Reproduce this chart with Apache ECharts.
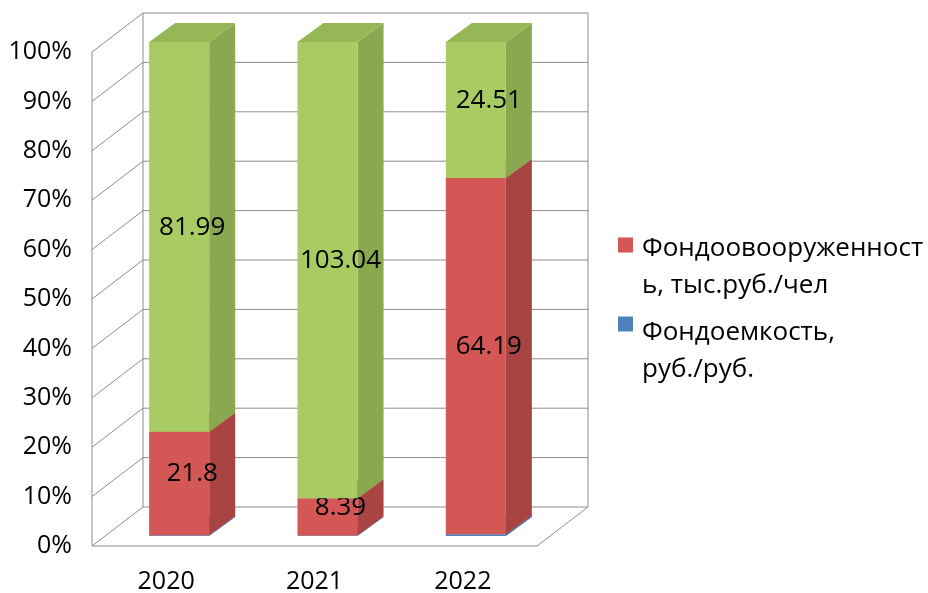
<!DOCTYPE html>
<html>
<head>
<meta charset="utf-8">
<script src="https://cdn.jsdelivr.net/npm/echarts@6/dist/echarts.min.js"></script>
<style>
  html, body { margin: 0; padding: 0; background: #fff; }
  #main { width: 928px; height: 593px; }
</style>
</head>
<body>
<div id="main"></div>
<script>
// data
const years = ["2020", "2021", "2022"];
const fondoemkost = [0.15, 0.12, 0.3];          // blue, barely visible
const fondovooruzh = [21.8, 8.39, 64.19];        // red
const third = [81.99, 103.04, 24.51];            // green (not in legend)
const yTicks = [0, 10, 20, 30, 40, 50, 60, 70, 80, 90, 100];

const nameBlue = "Фондоемкость, руб./руб.";
const nameRed = "Фондоовооруженность, тыс.руб./чел";
const nameGreen = "Ряд 3";

const FONT = "Open Sans";
// 3d offsets relative to grid plane (bar front plane)
const FRONT = [-13, 10];
const BACK = [38, -29];
const DEPTH = [26, -19];

const totals = years.map((y, i) => fondoemkost[i] + fondovooruzh[i] + third[i]);
const stackSeries = [
  { name: nameBlue, values: fondoemkost, front: "#4F81BD", side: "#3E6597", top: "#4A78B0", label: false },
  { name: nameRed, values: fondovooruzh, front: "#D35754", side: "#A84543", top: "#BE4E4B", label: true },
  { name: nameGreen, values: third, front: "#A8CC63", side: "#89A84F", top: "#95B755", label: true }
];

// percent bottoms/tops for each stacked segment
const segData = stackSeries.map((s, k) => years.map((y, i) => {
  let base = 0;
  for (let j = 0; j < k; j++) base += stackSeries[j].values[i];
  return [i, base / totals[i] * 100, (base + s.values[i]) / totals[i] * 100, s.values[i]];
}));

function wallItem(params, api) {
  const v = api.value(0);
  const p = api.coord([0, v]);
  const cs = params.coordSys;
  const xl = cs.x, xr = cs.x + cs.width;
  const y = p[1];
  const st = { stroke: "#8c8c8c", lineWidth: 1 };
  const children = [
    { type: "line", shape: { x1: xl + FRONT[0], y1: y + FRONT[1], x2: xl + BACK[0], y2: y + BACK[1] }, style: st },
    { type: "line", shape: { x1: xl + BACK[0], y1: y + BACK[1], x2: xr + BACK[0], y2: y + BACK[1] }, style: st }
  ];
  if (params.dataIndex === 0) {
    const yb = y, yt = api.coord([0, 100])[1];
    children.push(
      { type: "line", shape: { x1: xl + FRONT[0], y1: yb + FRONT[1], x2: xl + FRONT[0], y2: yt + FRONT[1] }, style: st },
      { type: "line", shape: { x1: xl + BACK[0], y1: yb + BACK[1], x2: xl + BACK[0], y2: yt + BACK[1] }, style: st },
      { type: "line", shape: { x1: xr + BACK[0], y1: yb + BACK[1], x2: xr + BACK[0], y2: yt + BACK[1] }, style: st },
      { type: "line", shape: { x1: xl + FRONT[0], y1: yb + FRONT[1], x2: xr + FRONT[0], y2: yb + FRONT[1] }, style: st },
      { type: "line", shape: { x1: xr + FRONT[0], y1: yb + FRONT[1], x2: xr + BACK[0], y2: yb + BACK[1] }, style: st }
    );
  }
  return { type: "group", children: children };
}

function boxItem(s) {
  return function (params, api) {
    const i = api.value(0);
    const b = api.coord([i, api.value(1)]);
    const t = api.coord([i, api.value(2)]);
    const w = api.size([1, 0])[0] * 0.405;
    const x0 = b[0] - w / 2, x1 = b[0] + w / 2;
    const yb = b[1], yt = t[1];
    const dx = DEPTH[0], dy = DEPTH[1];
    const children = [
      { type: "polygon", shape: { points: [[x1, yb], [x1 + dx, yb + dy], [x1 + dx, yt + dy], [x1, yt]] }, style: { fill: s.side } },
      { type: "polygon", shape: { points: [[x0, yt], [x1, yt], [x1 + dx, yt + dy], [x0 + dx, yt + dy]] }, style: { fill: s.top } },
      { type: "rect", shape: { x: x0, y: yt, width: w, height: yb - yt }, style: { fill: s.front } }
    ];
    if (s.label) {
      children.push({
        type: "text",
        style: {
          text: String(api.value(3)),
          x: b[0] + dx / 2, y: (yb + yt) / 2 + dy / 2,
          align: "center", verticalAlign: "middle",
          fill: "#000", font: "26px '" + FONT + "'"
        },
        z2: 10
      });
    }
    return { type: "group", children: children };
  };
}

const chart = echarts.init(document.getElementById("main"));
const series = [{
  type: "custom",
  name: "walls",
  renderItem: wallItem,
  data: yTicks.map(v => [v]),
  encode: { y: 0 },
  silent: true,
  z: 1
}];
stackSeries.forEach((s, k) => {
  series.push({
    type: "custom",
    name: s.name,
    renderItem: boxItem(s),
    data: segData[k],
    encode: { x: 0, y: [1, 2] },
    itemStyle: { color: s.front },
    z: 2 + k
  });
});

function legendStyle(gap) {
  return {
    color: "#000", fontSize: 26,
    rich: {
      s: { fontSize: 26, lineHeight: gap },
      a: { color: "#000", fontSize: 26, lineHeight: 37, padding: [0, 0, 0, 4] }
    }
  };
}

chart.setOption({
  animation: false,
  textStyle: { fontFamily: FONT },
  grid: { left: 105, top: 42, width: 445, height: 494, outerBoundsMode: "none" },
  xAxis: {
    type: "category",
    data: years,
    axisLine: { show: false },
    axisTick: { show: false },
    axisLabel: { color: "#000", fontSize: 25, lineHeight: 30, margin: 31, padding: [0, 26, 0, 0] }
  },
  yAxis: {
    type: "value",
    min: 0, max: 100, interval: 10,
    axisLine: { show: false },
    axisTick: { show: false },
    splitLine: { show: false },
    axisLabel: { color: "#000", fontSize: 25, margin: 33, lineHeight: 20, verticalAlign: "top", formatter: "{value}%" }
  },
  legend: [
    {
      data: [nameRed], orient: "vertical", left: 618, top: 195, padding: 0,
      itemWidth: 15, itemHeight: 15, icon: "rect",
      formatter: () => "{s| }\n{a|Фондоовооруженност}\n{a|ь, тыс.руб./чел}",
      textStyle: legendStyle(45)
    },
    {
      data: [nameBlue], orient: "vertical", left: 618, top: 274, padding: 0,
      itemWidth: 15, itemHeight: 15, icon: "rect",
      formatter: () => "{s| }\n{a|Фондоемкость,}\n{a|руб./руб.}",
      textStyle: legendStyle(55)
    }
  ],
  series: series
});
</script>
</body>
</html>
